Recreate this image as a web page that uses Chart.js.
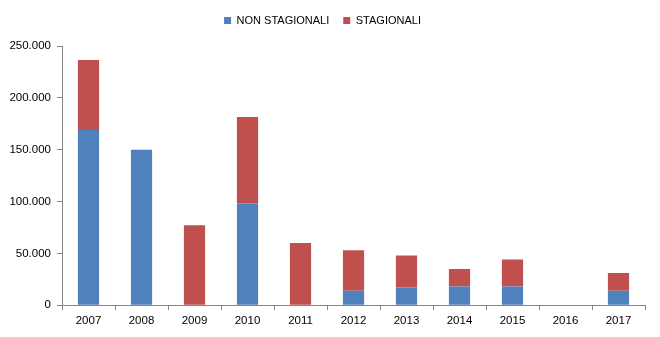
<!DOCTYPE html>
<html><head><meta charset="utf-8">
<script src="https://cdn.jsdelivr.net/npm/chart.js@4"></script>
<style>html,body{margin:0;padding:0;background:#fff}#wrap{width:660px;height:337px}</style>
</head><body><div id="wrap"><canvas id="c" width="660" height="337"></canvas></div>
<script>
const categories = ["2007","2008","2009","2010","2011","2012","2013","2014","2015","2016","2017"];
const nonStagionali = [169000,150000,0,98000,0,14000,17000,18000,18000,0,14000];
const stagionali = [67500,0,77000,83500,60000,39000,31000,17000,26000,0,17000];
const seriesNames = ["NON STAGIONALI","STAGIONALI"];
const yMax = 250000, yStep = 50000;

function fmt(v){return v.toString().replace(/\B(?=(\d{3})+(?!\d))/g,".");}

const legendGap = {id:'legendGap',beforeInit(chart){
  const lg = chart.legend; const orig = lg.fit;
  lg.fit = function(){orig.bind(lg)(); this.height += 10;};
}};

new Chart(document.getElementById('c'),{
  type:'bar',
  data:{labels:categories,datasets:[
    {label:seriesNames[0],data:nonStagionali,backgroundColor:'#4F81BD',barPercentage:0.4,categoryPercentage:1},
    {label:seriesNames[1],data:stagionali,backgroundColor:'#C0504D',barPercentage:0.4,categoryPercentage:1}
  ]},
  options:{
    responsive:false,animation:false,
    layout:{padding:{left:0,right:15,top:1,bottom:5}},
    plugins:{
      legend:{position:'top',labels:{boxWidth:7,boxHeight:7,color:'#000',font:{family:'Liberation Sans',size:11},padding:14}},
      tooltip:{enabled:false}
    },
    scales:{
      x:{stacked:true,border:{color:'#868686'},grid:{drawOnChartArea:false,drawTicks:true,tickLength:5,color:'#868686',offset:true},
         ticks:{color:'#000',font:{family:'Liberation Sans',size:11.5},padding:4,maxRotation:0}},
      y:{stacked:true,min:0,max:yMax,border:{color:'#868686'},grid:{drawOnChartArea:false,drawTicks:true,tickLength:5,color:'#868686'},
         ticks:{stepSize:yStep,color:'#000',font:{family:'Liberation Sans',size:11.5},padding:6,callback:v=>fmt(v)},
         afterFit:s=>{s.width=62;}}
    }
  },
  plugins:[legendGap]
});
</script></body></html>
